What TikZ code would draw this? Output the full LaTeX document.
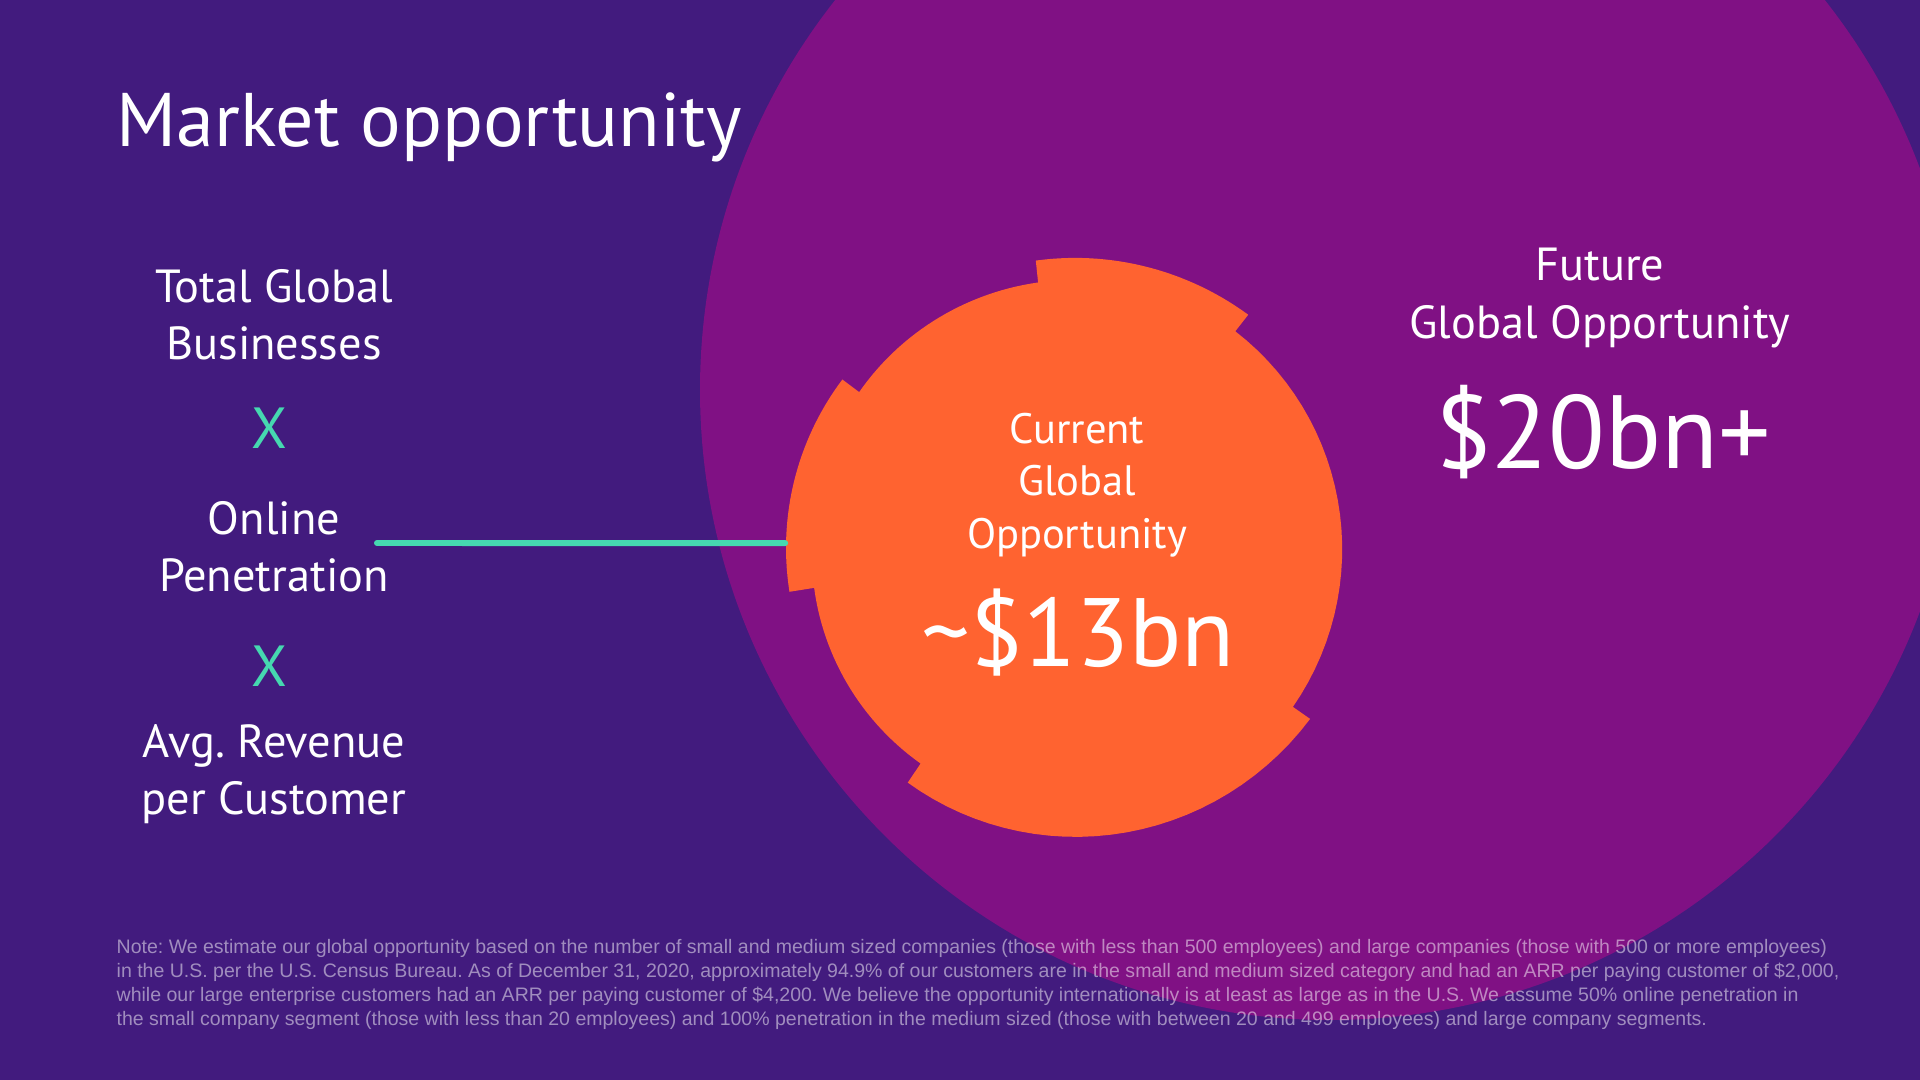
\documentclass[tikz,border=0pt]{standalone}
\usepackage{fontspec}
\setmainfont{PT Sans}
\newfontfamily\notefont{Liberation Sans}
\usetikzlibrary{positioning}
\definecolor{bgpurple}{RGB}{66,27,126}
\definecolor{magpurple}{RGB}{128,17,132}
\definecolor{blobor}{RGB}{255,99,48}
\definecolor{tealx}{RGB}{70,216,176}
\frenchspacing

\begin{document}
\begin{tikzpicture}[x=0.01cm,y=0.01cm,
		lbl/.style={text=white,align=center,inner sep=0pt,font=\fontsize{13.2}{16.3}\selectfont},
		timesx/.style={text=tealx,inner sep=0pt,font=\fontsize{16.5}{18}\selectfont},
		notetxt/.style={anchor=base west,text=white,text opacity=0.5,inner sep=0pt,font=\notefont\fontsize{5.55}{6.5}\selectfont}]
		\useasboundingbox (0,0) rectangle (1920,-1080);
		\clip (0,0) rectangle (1920,-1080);
		\fill[bgpurple] (0,0) rectangle (1920,-1080);
		% future opportunity
		\fill[magpurple] (1330,-390) circle (630);
		% current opportunity, ring of stepped arcs (angle from/to, radius from/to)
		\coordinate (c) at (1066,-548);
		\begin{scope}[shift={(c)}]
			\fill[blobor] (52:296) \foreach \a/\b/\ra/\rb in {52/96/296/289,96/143/267/259,143/189/280/280,189/236/255/260,236/325/283/298,325/412/277/275}
				{ -- plot[domain=\a:\b,samples=30] (\x:{\ra+(\rb-\ra)*(\x-\a)/(\b-\a)}) } -- cycle;
		\end{scope}
		\node[circle,inner sep=0pt,minimum size=5.6cm] (blob) at (c) {};
		%\draw[red] (blob) circle (280);
		\node[anchor=base west,text=white,inner sep=0pt,font=\fontsize{21.6}{26}\selectfont] (title) at (116,-147) {Market opportunity};
		\node[lbl] (tgb) at (274,-315) {Total Global\\Businesses};
		\node[timesx] (x1) at (269,-428) {X};
		\node[lbl] (onl) at (274,-547) {Online\\Penetration};
		\node[timesx] (x2) at (269,-666) {X};
		\node[lbl] (arpc) at (274,-774) {Avg. Revenue\\per Customer};
		\node[lbl,font=\fontsize{12.1}{15}\selectfont] (cgo) at (1077,-485) {Current\\Global\\Opportunity};
		\node[anchor=base,text=white,inner sep=0pt,font=\fontsize{27.6}{30}\selectfont] (cval) at (1078,-667) {\char`\~\$13bn};
		\node[lbl] (fgo) at (1600,-298) {Future\\Global Opportunity};
		\node[anchor=base,text=white,inner sep=0pt,font=\fontsize{29.6}{32}\selectfont] (fval) at (1603,-469) {\$20bn+};
		% link
		\coordinate (pen) at (377,-543);
		\draw[tealx,line width=1.7pt,line cap=round] (pen) -- (blob.179);
		% footnote
		\node[notetxt] (n1) at (116,-954) {Note: We estimate our global opportunity based on the number of small and medium sized companies (those with less than 500 employees) and large companies (those with 500 or more employees)};
		\node[notetxt] (n2) at (116,-978) {in the U.S. per the U.S. Census Bureau. As of December 31, 2020, approximately 94.9\% of our customers are in the small and medium sized category and had an ARR per paying customer of \$2,000,};
		\node[notetxt] (n3) at (116,-1002) {while our large enterprise customers had an ARR per paying customer of \$4,200. We believe the opportunity internationally is at least as large as in the U.S. We assume 50\% online penetration in};
		\node[notetxt] (n4) at (116,-1026) {the small company segment (those with less than 20 employees) and 100\% penetration in the medium sized (those with between 20 and 499 employees) and large company segments.};
\end{tikzpicture}
\end{document}
